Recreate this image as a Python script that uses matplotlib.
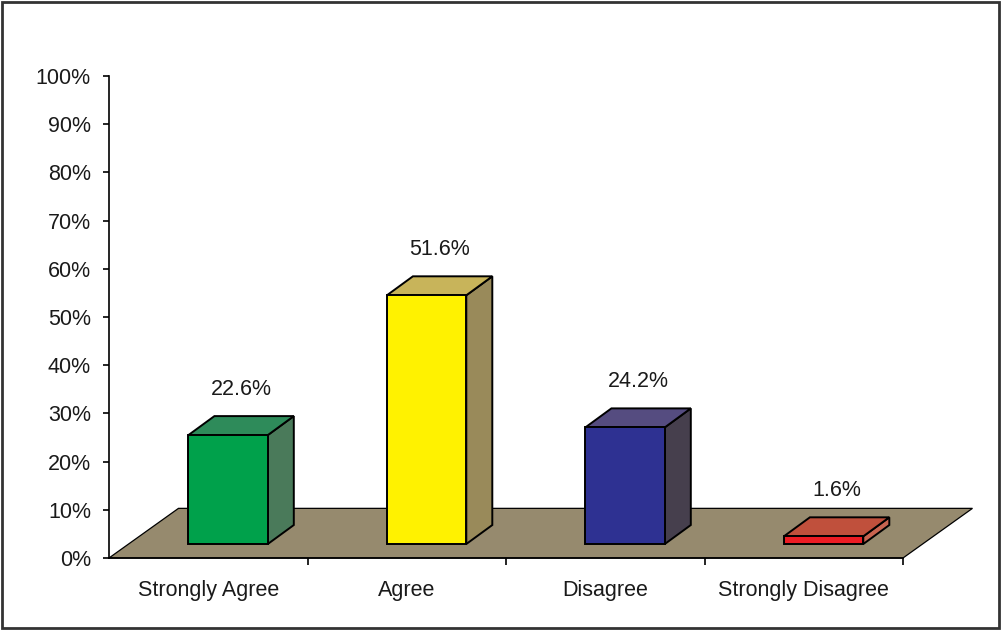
import matplotlib
matplotlib.use("Agg")
import matplotlib.pyplot as plt
from matplotlib.patches import Polygon, Rectangle

categories = ["Strongly Agree", "Agree", "Disagree", "Strongly Disagree"]
values = [22.6, 51.6, 24.2, 1.6]
value_labels = ["22.6%", "51.6%", "24.2%", "1.6%"]
yticks = [0, 10, 20, 30, 40, 50, 60, 70, 80, 90, 100]
ytick_labels = ["0%", "10%", "20%", "30%", "40%", "50%", "60%", "70%", "80%", "90%", "100%"]

face_colors = ["#00A14B", "#FFF200", "#2E3192", "#ED1C24"]
top_colors = ["#2E8B5A", "#C8B45A", "#554C80", "#C0503C"]
side_colors = ["#4A7A5A", "#998A5A", "#463F4D", "#C86450"]
floor_color = "#968A6E"

plt.rcParams['font.family'] = ['Liberation Sans', 'DejaVu Sans']
FS = 15.5

fig = plt.figure(figsize=(10.01, 6.30), dpi=100)
fig.patch.set_facecolor("white")
ax = fig.add_axes([109/1001, (630-558)/630, (903-109)/1001, (558-76)/630])
ax.set_xlim(0, 4)
ax.set_ylim(0, 100)
ax.set_facecolor("none")

# floor (3D base)
fdx, fdy = 0.35, 10.3
floor = Polygon([(0, 0), (4, 0), (4 + fdx, fdy), (fdx, fdy)], closed=True,
                facecolor=floor_color, edgecolor="black", linewidth=0.9,
                clip_on=False, zorder=1)
ax.add_patch(floor)

# bars
bw = 0.40
shift = 0.10
base = 2.9
ddx, ddy = 0.131, 3.94
n = len(categories)
for i in range(n):
    v = values[i]
    x0 = i + 0.5 + shift - bw / 2
    x1 = x0 + bw
    ax.bar(x0, v, width=bw, bottom=base, align="edge", color=face_colors[i],
           edgecolor="black", linewidth=1.4, zorder=3, clip_on=False)
    side = Polygon([(x1, base), (x1 + ddx, base + ddy), (x1 + ddx, base + v + ddy), (x1, base + v)],
                   closed=True, facecolor=side_colors[i], edgecolor="black", linewidth=1.4,
                   zorder=2, clip_on=False)
    top = Polygon([(x0, base + v), (x0 + ddx, base + v + ddy), (x1 + ddx, base + v + ddy), (x1, base + v)],
                  closed=True, facecolor=top_colors[i], edgecolor="black", linewidth=1.4,
                  zorder=2, clip_on=False)
    ax.add_patch(side)
    ax.add_patch(top)
    ax.annotate(value_labels[i], xy=(x0 + bw / 2 + ddx / 2, base + v + ddy), xytext=(0, 19),
                textcoords="offset points", ha="center", va="center", fontsize=FS,
                color="#1a1a1a", zorder=5)

# axes styling
for s in ["top", "right"]:
    ax.spines[s].set_visible(False)
ax.spines["left"].set_linewidth(1.2)
ax.spines["bottom"].set_linewidth(1.2)
ax.spines["left"].set_zorder(6)
ax.spines["bottom"].set_zorder(6)

ax.set_yticks(yticks)
ax.set_yticklabels(ytick_labels, fontsize=FS, color="#1a1a1a")
ax.tick_params(axis="y", direction="out", length=4, width=1.2, pad=9)

ax.set_xticks([i + 0.5 for i in range(n)])
ax.set_xticklabels(categories, fontsize=FS, color="#1a1a1a")
ax.tick_params(axis="x", which="major", length=0, pad=16)
ax.set_xticks([1, 2, 3, 4], minor=True)
ax.tick_params(axis="x", which="minor", direction="out", length=5, width=1.2)

# outer border
fig.patches.append(Rectangle((0.002, 0.003), 0.996, 0.994, transform=fig.transFigure,
                             fill=False, edgecolor="#333333", linewidth=2.0))

fig.savefig("out.png", dpi=100)
